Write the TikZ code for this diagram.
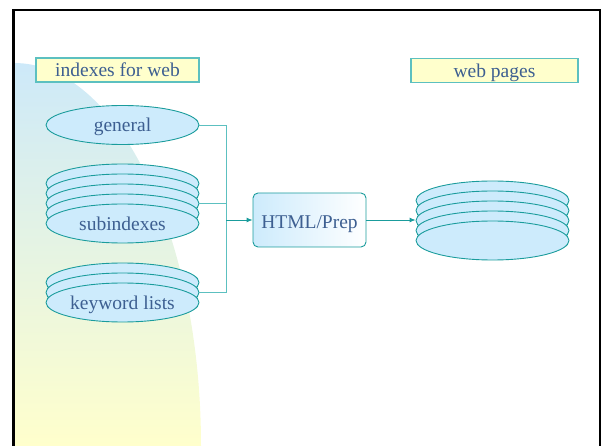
\documentclass[tikz,border=0pt]{standalone}
\usepackage{fontspec}
\setmainfont{Liberation Serif}
\usetikzlibrary{shapes.geometric,arrows.meta}
\definecolor{ink}{HTML}{3D5F91}
\definecolor{tealdark}{HTML}{1A9C9C}
\definecolor{teallight}{HTML}{5CC0C0}
\definecolor{diskfill}{HTML}{CDEBFC}
\definecolor{labelfill}{HTML}{FFFFCC}
\definecolor{bgtop}{HTML}{CDE9F9}
\definecolor{bgbottom}{HTML}{FFFFCC}
\tikzset{
    disk/.style={ellipse, draw=tealdark, fill=diskfill, line width=0.9pt,
        minimum width=153pt, minimum height=39pt, inner sep=0pt, text depth=0pt, text=ink},
    header/.style={draw=teallight, fill=labelfill, line width=1.2pt,
        inner sep=0pt, minimum height=24pt, text depth=0pt, text=ink},
    feed/.style={draw=teallight, line width=0.9pt},
    flow/.style={draw=tealdark, line width=0.9pt, -{Latex[length=6pt,width=5pt]}}
}

\begin{document}
\begin{tikzpicture}[x=1pt, y=-1pt, font=\fontsize{19.5}{23}\selectfont]
        \useasboundingbox (0,0) rectangle (602,446);
        % slide background and frame
        \shade[top color=bgtop, bottom color=bgbottom]
            (14,446) -- (14,63) arc[start angle=-90, end angle=0, x radius=187, y radius=383] -- cycle;
        \draw[line width=2.5pt] (13.5,470) -- (13.5,10) -- (600,10) -- (600,470);

        % headers
        \node[header, minimum width=163pt] (idxlabel) at (117.5,70) {indexes for web};
        \node[header, minimum width=167pt] (pageslabel) at (494.5,70.5) {web pages};

        % index files
        \node[disk] (general) at (122.5,125) {general};
        \foreach \i in {1,...,4}
            \node[disk] (sub\i) at (122.5,173.5+10*\i) {};
        \node[disk] (sub5) at (122.5,223.5) {subindexes};
        \foreach \i in {1,2}
            \node[disk] (kw\i) at (122.5,272.5+10*\i) {};
        \node[disk] (kw3) at (122.5,302.5) {keyword lists};

        % preprocessor
        \node[draw=tealdark, line width=0.9pt, rounded corners=5pt, left color=diskfill,
            right color=white, minimum width=113pt, minimum height=54pt, inner sep=0pt,
            text height=17pt, text depth=0pt, text=ink] (html) at (309.5,220) {HTML/Prep};

        % output pages
        \foreach \i in {1,...,5}
            \node[disk] (pages\i) at (492.5,190.5+10*\i) {};

        % connectors
        \coordinate (join) at (226,220);
        \draw[feed] (general.east) -| (join);
        \draw[feed] (sub3.east) -| (join);
        \draw[feed] (kw2.east) -| (join);
        \draw[flow] (join) -- (html.west);
        \draw[flow] (html.east) -- (html.east -| pages3.west);
    \end{tikzpicture}
\end{document}
